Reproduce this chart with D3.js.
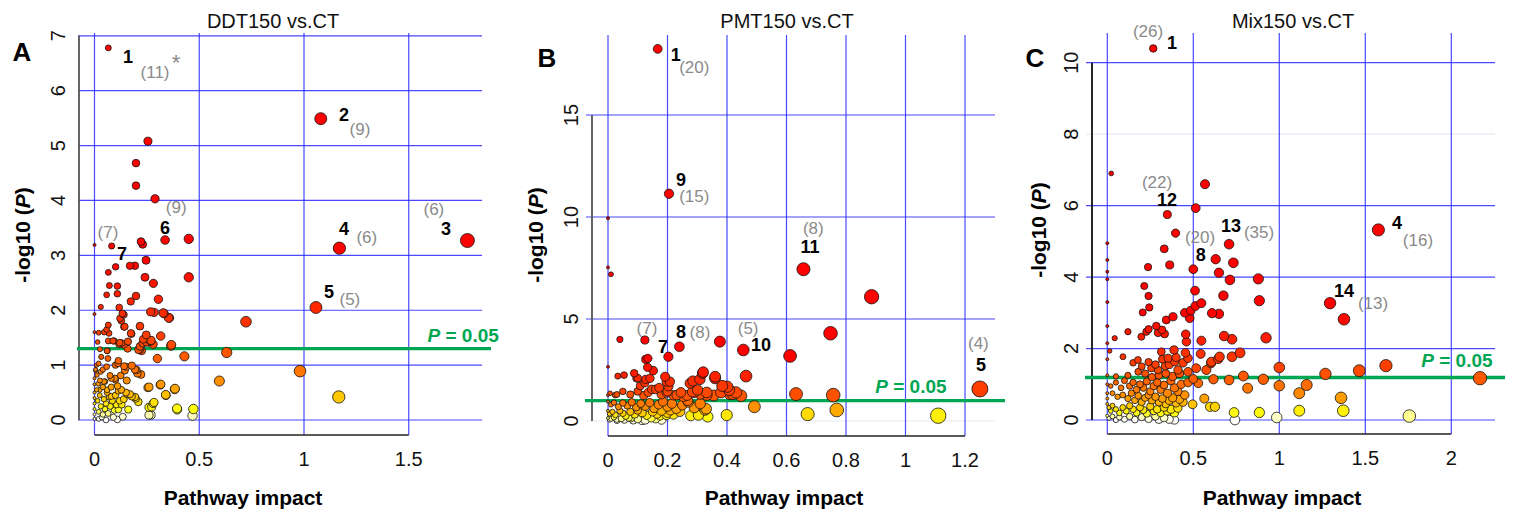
<!DOCTYPE html>
<html><head><meta charset="utf-8">
<script src="https://cdn.jsdelivr.net/npm/d3@7"></script>
<style>body{margin:0;background:#fff}svg{display:block}text{font-family:"Liberation Sans",Arial,sans-serif}</style>
</head><body><svg id="c" width="1515" height="515"></svg>
<script>
// ---------- DATA ----------
const panelLetters = ["A","B","C"];
const panelTitles = ["DDT150 vs.CT","PMT150 vs.CT","Mix150 vs.CT"];
const ddtXTicks = [0,0.5,1,1.5], ddtYTicks = [0,1,2,3,4,5,6,7];
const pmtXTicks = [0,0.2,0.4,0.6,0.8,1,1.2], pmtYTicks = [0,5,10,15];
const mixXTicks = [0,0.5,1,1.5,2], mixYTicks = [0,2,4,6,8,10];
const thresholdLogP = [1.3, 1.0, 1.19];   // -log10(P) of the "P = 0.05" line per panel

// [pathway impact, -log10(P)]
const ddtPoints = [
[0.066,6.78],[1.08,5.49],[1.78,3.27],[1.169,3.13],[1.057,2.05],
[0.255,5.08],[0.198,4.68],[0.198,4.27],[0.289,4.03],
[0.45,3.30],[0.337,3.28],[0.222,3.25],[0.23,3.2],[0.0,3.19],[0.082,3.17],
[0.45,2.60],[0.723,1.79],[0.631,1.23],[0.429,1.16],[0.981,0.89],[0.596,0.71],[1.166,0.42],
[0.472,0.20],[0.468,0.08],[0.395,0.19],[0.384,0.57],[0.34,0.46],[0.316,0.65],[0.26,0.6],[0.284,0.32],[0.273,0.24],[0.27,0.09],
[0.3,1.12],[0.365,1.35],[0.316,1.53],[0.357,1.86],[0.328,1.95],[0.305,2.2],[0.281,2.49],[0.241,2.6],[0.246,2.91],[0.285,1.96],[0.268,1.97],
[0.193,2.81],[0.169,2.81],[0.198,2.26],[0.173,2.16],[0.101,2.79],[0.066,2.69],[0.071,2.45],[0.109,2.44],[0.058,2.28],[0.109,2.3],[0.03,2.06],[0.0,1.93],
[0.118,2.05],[0.122,1.85],[0.133,1.94],[0.14,1.92],[0.128,1.81],[0.141,1.7],[0.217,1.71],[0.174,1.58],[0.066,1.73],[0.0,1.6],[0.02,1.59],[0.046,1.6],[0.058,1.65],
[0.015,1.42],[0.066,1.44],[0.093,1.44],[0.117,1.38],[0.13,1.4],[0.233,1.47],[0.257,1.42],[0.28,1.38],[0.217,1.34],[0.225,1.26],[0.158,1.3],[0.026,1.29],[0.061,1.26],
[0.332,1.94],[0.354,1.86],[0.144,1.7],[0.176,1.57],[0.247,1.55],[0.268,1.44],[0.367,1.37],[0.16,1.43],[0.088,1.44],[0.069,1.58],[0.216,1.28],
[0.12,1.41],[0.14,1.37],[0.21,1.28],[0.23,1.4],[0.25,1.42],[0.27,1.45],[0.06,1.26],
[0.178,0.99],[0.114,1.08],[0.1,1.0],[0.141,0.98],[0.058,0.97],[0.01,1.0],[0.222,0.83],[0.193,0.92],[0.125,0.81],[0.074,0.81],[0.098,0.76],[0.154,0.72],[0.026,0.72],
[0.032,1.15],[0.064,1.12],[0.112,1.03],[0.152,0.97],[0.2,0.91],[0.205,0.85],[0.02,1.03],[0.005,0.92],[0.0,0.76],[0.018,0.66],[0.04,0.92],[0.08,0.76],[0.1,0.73],[0.145,0.9],[0.05,0.7],
[0.025,0.55],[0.06,0.55],[0.08,0.43],[0.128,0.55],[0.156,0.47],[0.178,0.43],[0.197,0.39],[0.255,0.59],[0.314,0.64],[0.341,0.45],[0.383,0.56],[0.26,0.23],[0.28,0.3],[0.26,0.09],[0.394,0.21],
[0.114,0.53],[0.15,0.5],[0.169,0.47],[0.193,0.42],[0.209,0.33],[0.114,0.19],[0.161,0.19],[0.135,0.06],[0.109,0.01],
[0.0,0.65],[0.0,0.5],[0.0,0.4],[0.0,0.3],[0.0,0.2],[0.0,0.1],[0.0,0.02],[0.01,0.55],[0.015,0.35],[0.02,0.15],[0.025,0.45],[0.03,0.25],[0.035,0.05],
[0.04,0.6],[0.045,0.38],[0.05,0.2],[0.055,0.3],[0.06,0.5],[0.065,0.12],[0.07,0.42],[0.075,0.25],[0.08,0.6],[0.085,0.35],[0.09,0.05],[0.095,0.18],
[0.1,0.45],[0.105,0.28],[0.11,0.62],[0.012,0.82],[0.03,0.88],[0.045,0.7],[0.005,0.9],[0.02,0.02],[0.055,0.0],[0.04,0.1],[0.12,0.35],[0.13,0.28],[0.14,0.38]
];
const pmtPoints = [
[0.167,18.24],[0.205,11.14],[0.0,9.94],[0.0,7.53],[0.01,7.19],[0.657,7.44],[0.886,6.09],[0.748,4.3],[0.612,3.19],[1.25,1.57],[1.11,0.26],[0.757,1.27],[0.632,1.32],[0.769,0.54],[0.671,0.34],
[0.455,3.48],[0.464,2.2],[0.447,1.24],[0.492,0.7],[0.399,0.29],[0.376,3.89],[0.36,2.17],[0.384,1.72],[0.407,1.52],[0.42,1.33],
[0.24,3.64],[0.203,3.15],[0.124,3.97],[0.04,4.0],[0.127,3.02],[0.134,3.07],[0.133,2.63],[0.152,2.47],[0.0,2.66],
[0.033,2.2],[0.054,2.25],[0.088,2.34],[0.1,2.1],[0.127,2.04],[0.108,1.72],[0.124,1.87],[0.197,1.93],[0.203,1.7],[0.285,1.96],[0.309,2.04],[0.318,2.34],
[0.301,1.52],[0.332,1.27],[0.172,1.63],[0.147,1.55],[0.197,1.39],[0.231,1.27],[0.253,1.19],[0.268,1.0],[0.284,1.43],
[0.141,2.09],[0.096,2.09],[0.192,2.17],[0.208,1.93],[0.276,1.85],[0.32,2.4],[0.36,2.09],[0.401,1.68],
[0.007,1.36],[0.03,1.3],[0.05,1.45],[0.075,1.3],[0.1,1.45],[0.12,1.25],[0.135,1.4],[0.16,1.55],[0.18,1.3],[0.2,1.45],[0.22,1.26],[0.245,1.4],[0.266,1.25],[0.29,1.4],[0.31,1.32],[0.332,1.4],[0.355,1.25],[0.38,1.4],[0.41,1.32],[0.43,1.4],
[0.242,0.46],[0.278,0.26],[0.304,0.29],[0.335,0.21],[0.326,0.54],[0.197,0.29],[0.175,0.26],[0.145,0.16],[0.115,0.02],[0.077,0.13],[0.029,0.08],
[0.024,1.27],[0.0,1.27],
[0.0,0.95],[0.01,0.8],[0.02,0.9],[0.035,0.7],[0.05,0.88],[0.065,0.75],[0.08,0.92],[0.095,0.68],[0.11,0.85],[0.125,0.72],[0.14,0.9],[0.155,0.62],[0.17,0.8],[0.185,0.95],[0.2,0.7],[0.215,0.85],[0.23,0.6],[0.25,0.78],[0.27,0.92],[0.29,0.65],[0.31,0.85],[0.33,0.6],
[0.0,0.5],[0.005,0.35],[0.015,0.45],[0.025,0.3],[0.04,0.5],[0.05,0.38],[0.06,0.25],[0.075,0.45],[0.09,0.32],[0.1,0.52],[0.115,0.4],[0.13,0.28],[0.15,0.45],[0.165,0.35],[0.18,0.5],[0.2,0.4],[0.22,0.32],[0.21,0.52],
[0.0,0.15],[0.005,0.05],[0.01,0.1],[0.02,0.18],[0.03,0.02],[0.045,0.12],[0.055,0.05],[0.07,0.16],[0.085,0.03],[0.1,0.1],[0.125,0.05],[0.16,0.12],[0.18,0.06]
];
const mixPoints = [
[0.267,10.4],[0.023,6.9],[0.568,6.6],[0.514,5.93],[0.349,5.75],[0.397,5.23],[0.708,4.92],[1.576,5.32],[0.0,4.95],[0.331,4.79],
[0.63,4.5],[0.733,4.4],[0.5,4.22],[0.363,4.34],[0.237,4.28],[0.649,4.12],[0.713,3.92],[0.215,3.75],[0.51,3.62],[0.24,3.47],[0.675,3.48],[0.547,3.27],[0.512,3.19],[0.244,3.15],[0.206,3.01],[0.45,3.0],[0.485,3.06],[0.479,2.85],[0.609,2.99],[0.649,2.97],[0.343,2.8],[0.382,2.89],[0.24,2.54],[0.285,2.63],[0.318,2.52],[0.295,2.44],[0.333,2.41],[0.227,2.47],[0.12,2.47],[0.198,2.33],[0.043,2.29],
[0.0,2.63],[0.0,2.15],[0.0,3.3],[0.0,3.94],[0.0,4.15],[0.0,4.48],[0.014,1.93],
[0.456,2.4],[0.46,2.19],[0.547,2.22],[0.679,2.35],[0.725,2.26],[0.091,1.77],[0.178,1.68],[0.314,1.91],[0.388,1.96],[0.353,1.73],[0.392,1.63],[0.454,1.88],[0.469,1.73],[0.543,1.85],[0.605,1.63],[0.653,1.77],[0.725,1.77],
[0.256,1.45],[0.295,1.4],[0.337,1.51],[0.411,1.4],[0.469,1.35],[0.517,1.45],[0.576,1.4],
[1.295,3.27],[1.376,2.82],[0.923,2.3],[0.884,3.34],[0.878,3.95],[0.772,1.88],[0.645,1.71],[0.603,1.59],[1.0,1.47],[1.62,1.52],[1.465,1.38],[1.268,1.29],[2.167,1.17],[0.791,1.23],[0.708,1.12],[0.617,1.14],[0.907,1.14],[1.0,0.96],[1.159,0.98],[1.116,0.75],[0.816,0.89],[1.359,0.62],[1.372,0.26],[1.116,0.26],[0.884,0.21],[0.737,0.21],[0.742,0.0],[0.985,0.07],[1.756,0.11],[0.564,0.6],[0.496,0.44],[0.597,0.37],[0.626,0.37],[0.529,1.03],
[0.0,1.0],[0.02,0.95],[0.05,1.05],[0.08,0.9],[0.1,1.1],[0.13,0.95],[0.15,1.05],[0.17,0.85],[0.19,1.0],[0.21,0.9],[0.23,1.08],[0.25,0.8],[0.27,0.95],[0.29,1.05],[0.31,0.85],[0.33,0.98],[0.35,0.75],[0.37,1.1],[0.39,0.9],[0.41,0.8],[0.43,1.0],[0.45,0.7],[0.47,1.05],[0.5,1.15],
[0.03,0.75],[0.06,0.65],[0.09,0.7],[0.12,0.6],[0.14,0.75],[0.16,0.55],[0.18,0.68],[0.2,0.5],[0.22,0.62],[0.24,0.7],[0.26,0.55],[0.28,0.65],[0.3,0.5],[0.32,0.6],[0.34,0.45],[0.36,0.55],[0.38,0.62],[0.4,0.48],[0.42,0.58],[0.44,0.5],
[0.0,0.45],[0.01,0.35],[0.02,0.25],[0.03,0.4],[0.05,0.3],[0.07,0.2],[0.09,0.35],[0.11,0.25],[0.13,0.4],[0.15,0.3],[0.17,0.2],[0.19,0.35],[0.21,0.28],[0.23,0.18],[0.25,0.38],[0.27,0.25],[0.29,0.3],[0.31,0.2],[0.33,0.35],[0.35,0.25],[0.37,0.3],[0.39,0.2],[0.41,0.33],
[0.0,0.12],[0.01,0.05],[0.03,0.1],[0.05,0.0],[0.07,0.08],[0.1,0.02],[0.13,0.1],[0.16,0.01],[0.2,0.08],[0.24,0.03],[0.28,0.1],[0.3,0.01],[0.33,0.06],[0.36,0.02],[0.39,0.0],
[0.12,1.25],[0.15,1.6],[0.18,1.35],[0.2,1.5],[0.22,1.3],[0.24,1.62],[0.26,1.2],[0.28,1.55],[0.3,1.25],[0.32,1.7],[0.34,1.3],[0.36,1.55],[0.38,1.22],[0.4,1.75],[0.42,1.3],[0.44,1.6],[0.05,1.22],[0.0,1.25],[0.0,1.7],[0.0,0.75],[0.0,0.6]
];

// annotations: [text, impact, -log10(P)] (text centre)
const ddtIds = [["1",0.16,6.61],["2",1.191,5.56],["3",1.678,3.48],["4",1.191,3.48],["5",1.119,2.33],["6",0.337,3.5],["7",0.131,3.02]];
const ddtCounts = [["(11)",0.289,6.34],["*",0.389,6.52],["(9)",1.267,5.30],["(6)",1.62,3.83],["(6)",1.3,3.33],["(5)",1.219,2.2],["(9)",0.39,3.87],["(7)",0.064,3.41]];
const pmtIds = [["1",0.228,17.94],["9",0.245,11.81],["11",0.679,8.54],["7",0.185,3.63],["8",0.245,4.36],["10",0.514,3.73],["5",1.254,2.75]];
const pmtCounts = [["(20)",0.29,17.32],["(15)",0.29,11.0],["(8)",0.69,9.45],["(7)",0.131,4.51],["(8)",0.309,4.36],["(5)",0.471,4.51],["(4)",1.245,3.81]];
const mixIds = [["1",0.376,10.55],["12",0.347,6.16],["8",0.543,4.62],["13",0.719,5.43],["4",1.684,5.51],["14",1.376,3.61]];
const mixCounts = [["(26)",0.237,10.86],["(22)",0.289,6.66],["(20)",0.539,5.12],["(35)",0.882,5.26],["(16)",1.806,5.01],["(13)",1.545,3.25]];
// "P = 0.05" label: right end (impact, -log10 P)
const pLabelAnchor = [[1.93,1.55],[1.138,1.72],[2.24,1.68]];

// ---------- LAYOUT / STYLE ----------
const layout = [
  {xr:[94.5,408.75], xd:[0,1.5], yr:[420,35.8], yd:[0,7], axisX:79, left:78, right:482, top:33, xAxisY:435, axisCol:"#555", rMax:7,
   letter:[22,52], title:[273,21], xlab:[243,497], ylab:[22,235], faded:[]},
  {xr:[608,965], xd:[0,1.2], yr:[421,115], yd:[0,15], axisX:592, left:586, right:995, top:35, xAxisY:436, axisCol:"#555", rMax:8,
   letter:[547,58], title:[787,21], xlab:[784,497], ylab:[535,235], faded:[0]},
  {xr:[1107.3,1451.3], xd:[0,2], yr:[420,62.7], yd:[0,10], axisX:1092, left:1086, right:1495, top:33, xAxisY:434, axisCol:"#111", rMax:6.7,
   letter:[1035,58], title:[1293,21], xlab:[1282,497], ylab:[1038,230], faded:[8]}
];
const allPoints = [ddtPoints, pmtPoints, mixPoints];
const allIds = [ddtIds, pmtIds, mixIds];
const allCounts = [ddtCounts, pmtCounts, mixCounts];
const xTicks = [ddtXTicks, pmtXTicks, mixXTicks];
const yTicks = [ddtYTicks, pmtYTicks, mixYTicks];

const heat = d3.scaleLinear()
  .domain([0,0.08,0.2,0.35,0.55,0.8,1.1,1.5,2.2,3])
  .range(["#ffffff","#ffffc0","#ffff10","#ffd800","#ffa800","#ff8000","#ff6000","#ff4000","#ff2000","#ff0000"])
  .clamp(true);

const svg = d3.select("#c");
const GRID = "#2a2aff", GREEN = "#00a651";

layout.forEach((L, i) => {
  const g = svg.append("g");
  const x = d3.scaleLinear().domain(L.xd).range(L.xr);
  const y = d3.scaleLinear().domain(L.yd).range(L.yr);
  const pts = allPoints[i];
  const xmax = d3.max(pts, d => d[0]);
  const r = d3.scalePow().exponent(0.4).domain([0, xmax]).range([1.5, L.rMax]);

  // grid
  g.selectAll(".hg").data(yTicks[i]).join("line")
    .attr("x1", L.left).attr("x2", L.right).attr("y1", d => y(d)).attr("y2", d => y(d))
    .attr("stroke", d => L.faded.includes(d) ? "#e6e8f4" : GRID).attr("stroke-width", 1.2).attr("opacity", 0.85);
  g.selectAll(".vg").data(xTicks[i]).join("line")
    .attr("x1", d => x(d)).attr("x2", d => x(d)).attr("y1", L.top).attr("y2", L.xAxisY)
    .attr("stroke", GRID).attr("stroke-width", 1.2).attr("opacity", 0.85);

  // y axis line
  g.append("line").attr("x1", L.axisX).attr("x2", L.axisX)
    .attr("y1", y(d3.max(yTicks[i]))).attr("y2", y(0))
    .attr("stroke", L.axisCol).attr("stroke-width", 1.8);
  // x axis line
  g.append("line").attr("x1", x(0)).attr("x2", x(d3.max(xTicks[i])))
    .attr("y1", L.xAxisY).attr("y2", L.xAxisY).attr("stroke", "#222").attr("stroke-width", 1.4);

  // tick labels
  g.selectAll(".yt").data(yTicks[i]).join("text")
    .attr("transform", d => `translate(${L.axisX - 21},${y(d)}) rotate(-90)`)
    .attr("text-anchor", "middle").attr("dominant-baseline", "central")
    .attr("font-size", 20).attr("fill", "#111").text(d => d);
  g.selectAll(".xt").data(xTicks[i]).join("text")
    .attr("x", d => x(d)).attr("y", L.xAxisY + 24)
    .attr("text-anchor", "middle").attr("dominant-baseline", "central")
    .attr("font-size", 20).attr("fill", "#111").text(d => d);

  // threshold line
  g.append("line").attr("x1", L.left - 1).attr("x2", L.right + (i === 0 ? 9 : 10))
    .attr("y1", y(thresholdLogP[i])).attr("y2", y(thresholdLogP[i]))
    .attr("stroke", GREEN).attr("stroke-width", 3.4);

  // points
  const sorted = pts.slice().sort((a, b) => a[1] - b[1]);
  g.selectAll(".pt").data(sorted).join("circle")
    .attr("cx", d => x(d[0])).attr("cy", d => y(d[1])).attr("r", d => r(d[0]))
    .attr("fill", d => heat(d[1])).attr("stroke", "#111").attr("stroke-width", 0.8);

  // P label
  const pl = g.append("text")
    .attr("x", x(pLabelAnchor[i][0])).attr("y", y(pLabelAnchor[i][1]))
    .attr("text-anchor", "end").attr("dominant-baseline", "central")
    .attr("font-size", 19).attr("font-weight", "bold").attr("fill", GREEN);
  pl.append("tspan").attr("font-style", "italic").text("P");
  pl.append("tspan").text(" = 0.05");

  // annotations
  g.selectAll(".id").data(allIds[i]).join("text")
    .attr("x", d => x(d[1])).attr("y", d => y(d[2]))
    .attr("text-anchor", "middle").attr("dominant-baseline", "central")
    .attr("font-size", 18).attr("font-weight", "bold").attr("fill", "#000").text(d => d[0]);
  g.selectAll(".ct").data(allCounts[i]).join("text")
    .attr("x", d => x(d[1])).attr("y", d => y(d[2]))
    .attr("text-anchor", "middle").attr("dominant-baseline", "central")
    .attr("font-size", d => d[0] === "*" ? 22 : 17).attr("fill", "#8a8a8a").text(d => d[0]);

  // titles
  g.append("text").attr("x", L.title[0]).attr("y", L.title[1])
    .attr("text-anchor", "middle").attr("dominant-baseline", "central")
    .attr("font-size", 20).attr("fill", "#111").text(panelTitles[i]);
  g.append("text").attr("x", L.letter[0]).attr("y", L.letter[1])
    .attr("text-anchor", "middle").attr("dominant-baseline", "central")
    .attr("font-size", 26).attr("font-weight", "bold").attr("fill", "#000").text(panelLetters[i]);
  g.append("text").attr("x", L.xlab[0]).attr("y", L.xlab[1])
    .attr("text-anchor", "middle").attr("dominant-baseline", "central")
    .attr("font-size", 21).attr("font-weight", "bold").attr("fill", "#000").text("Pathway impact");
  const yl = g.append("text")
    .attr("transform", `translate(${L.ylab[0]},${L.ylab[1]}) rotate(-90)`)
    .attr("text-anchor", "middle").attr("dominant-baseline", "central")
    .attr("font-size", 21).attr("font-weight", "bold").attr("fill", "#000");
  yl.append("tspan").text("-log10 (");
  yl.append("tspan").attr("font-style", "italic").text("P");
  yl.append("tspan").text(")");
});
</script></body></html>
